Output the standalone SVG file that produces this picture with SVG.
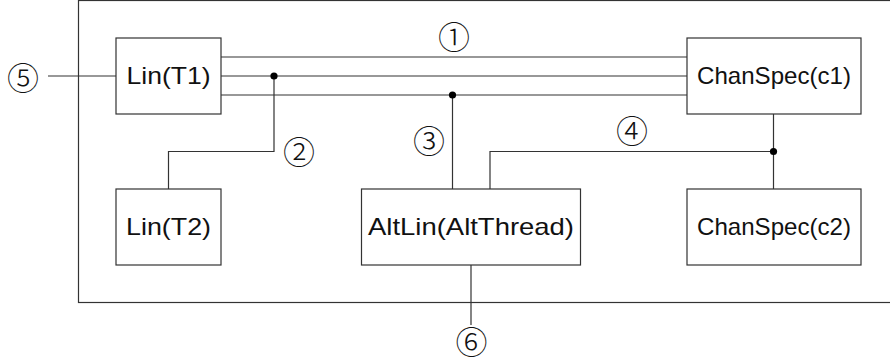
<svg xmlns="http://www.w3.org/2000/svg" width="890" height="362" viewBox="0 0 890 362">
<style>
.box{fill:#fff;stroke:#333;stroke-width:1.2}
.lbl{font-family:"Liberation Sans",Arial,sans-serif;font-size:24px;fill:#111;text-anchor:middle}
.num{font-family:"Noto Sans CJK JP","DejaVu Sans",sans-serif;font-size:32px;font-weight:300;fill:#111;text-anchor:middle;dominant-baseline:central}
.w{fill:none;stroke:#333;stroke-width:1.2}
.dot{fill:#000}
</style>
<rect width="890" height="362" fill="#fff"/>
<rect id="frame" x="78.5" y="0.5" width="830" height="302" fill="none" stroke="#333" stroke-width="1.2"/>
<g id="connectors">
<path class="w" d="M48 76H116"/>
<path class="w" d="M221 57H687M221 76H687M221 95H687"/>
<path class="w" d="M274 76V151.5H168.5V189"/>
<path class="w" d="M452.5 95V189"/>
<path class="w" d="M773.5 114V189M773.5 151.5H490V189"/>
<path class="w" d="M471 265V325"/>
<circle class="dot" cx="274" cy="76" r="3.6"/>
<circle class="dot" cx="452.5" cy="95" r="3.6"/>
<circle class="dot" cx="773.5" cy="151.5" r="3.6"/>
<text class="num" x="454" y="35">①</text>
<text class="num" x="299" y="150">②</text>
<text class="num" x="429" y="139">③</text>
<text class="num" x="632" y="129">④</text>
<text class="num" x="23" y="76">⑤</text>
<text class="num" x="471.5" y="340">⑥</text>
</g>
<g id="lin_t1"><rect class="box" x="116" y="38" width="105" height="76"/><text class="lbl" x="168.5" y="84" textLength="84" lengthAdjust="spacingAndGlyphs">Lin(T1)</text></g>
<g id="chanspec_c1"><rect class="box" x="687" y="38" width="174" height="76"/><text class="lbl" x="774" y="84" textLength="154" lengthAdjust="spacingAndGlyphs">ChanSpec(c1)</text></g>
<g id="lin_t2"><rect class="box" x="116" y="189" width="105" height="76"/><text class="lbl" x="168.5" y="235" textLength="85" lengthAdjust="spacingAndGlyphs">Lin(T2)</text></g>
<g id="altlin"><rect class="box" x="361.5" y="189" width="219" height="76"/><text class="lbl" x="471" y="235" textLength="206" lengthAdjust="spacingAndGlyphs">AltLin(AltThread)</text></g>
<g id="chanspec_c2"><rect class="box" x="687" y="189" width="174" height="76"/><text class="lbl" x="774" y="235" textLength="154" lengthAdjust="spacingAndGlyphs">ChanSpec(c2)</text></g>
</svg>
